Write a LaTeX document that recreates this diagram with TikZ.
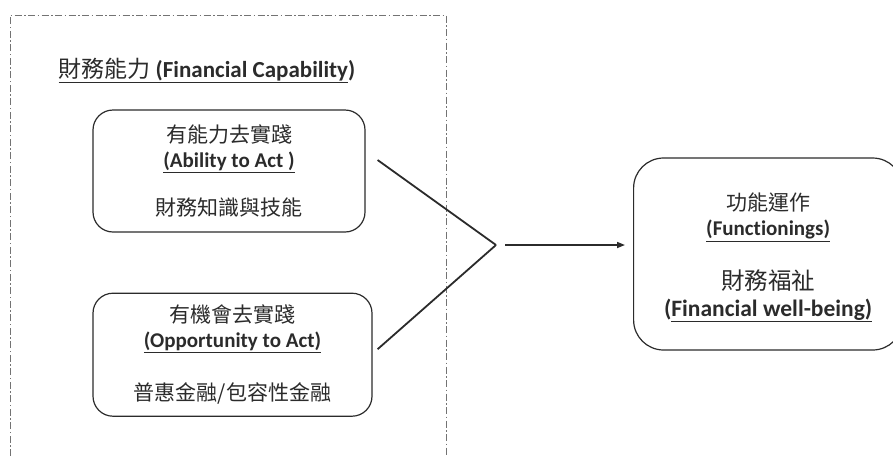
\documentclass[tikz,border=0pt]{standalone}
\usepackage{fontspec}
\setmainfont{Carlito}[Ligatures=NoCommon]
\newfontfamily\cjk{Noto Sans CJK TC}
\usetikzlibrary{positioning}
\usetikzlibrary{arrows.meta}
\definecolor{ink}{HTML}{2B2B2B}

\begin{document}
\begin{tikzpicture}[
  x=1pt, y=-1pt,
  font=\fontsize{21}{25}\selectfont,
  box/.style={draw=ink, line width=1.2pt, rounded corners=20pt, align=center, text=ink, inner sep=0pt},
  link/.style={draw=ink, line width=1.8pt},
  arrow/.style={-{Triangle[length=8pt,width=6pt]}, draw=ink, line width=1.6pt},
  frame/.style={draw=black!55, line width=0.8pt, dash pattern=on 7pt off 2.5pt on 1.5pt off 2.5pt}
]
\useasboundingbox (0,0) rectangle (893,456);

% Financial capability frame (open at the bottom)
\draw[frame] (10,456) -- (10,15) -- (446,15) -- (446,456);
\node[anchor=base west, text=ink, font=\fontsize{23}{27}\selectfont] (title) at (55,77)
{\underline{{\cjk 財務能力} \textbf{(Financial Capability}}\textbf{)}};

% Ability to act
\node[box, minimum width=272pt, minimum height=122pt] (ability) at (229,171)
{{\cjk 有能力去實踐}\\ \underline{\textbf{(Ability to Act )}}\\[23pt] {\cjk 財務知識與技能}};

% Opportunity to act
\node[box, below=60pt of ability, xshift=3.5pt, minimum width=279pt, minimum height=123pt] (opportunity)
{{\cjk 有機會去實踐}\\ \underline{\textbf{(Opportunity to Act)}}\\[28pt] {\cjk 普惠金融/包容性金融}};

% Functionings / well-being
\node[box, rounded corners=30pt, anchor=west, minimum width=269pt, minimum height=192pt] (wellbeing) at (633,254)
{\rule{0pt}{6pt}\\[-6pt]{\cjk 功能運作}\\ \underline{\textbf{(Functionings)}}\\[27pt]
 {\cjk\fontsize{23.5}{27}\selectfont 財務福祉}\\[2pt]
 {\fontsize{23.5}{27}\selectfont\textbf{(}\underline{\textbf{Financial well-being)}}}};

\coordinate (meet) at (496,245);
\draw[link] ([xshift=12pt,yshift=11pt]ability.east) -- (meet);
\draw[link] ([xshift=5pt,yshift=5.5pt]opportunity.east) -- (meet);
\draw[arrow] ([xshift=9pt]meet) -- ([xshift=-8pt]meet -| wellbeing.west);

\end{tikzpicture}
\end{document}
